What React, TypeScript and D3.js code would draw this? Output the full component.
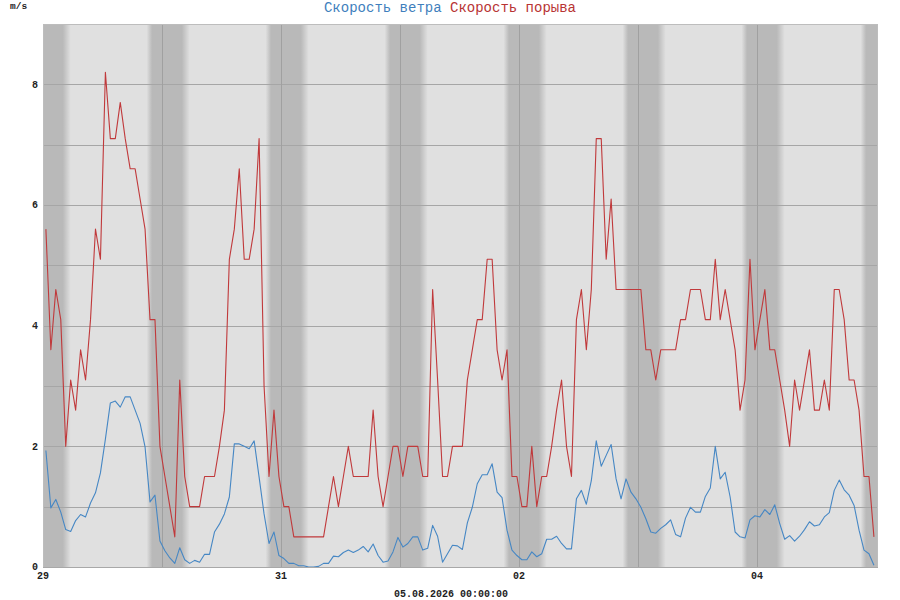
import React from "react";
import * as d3 from "d3";

// Hourly wind speed (m/s), starting 29.07 00:35
const windSpeed: number[] = [
  1.93, 0.98, 1.12, 0.91, 0.62, 0.59, 0.77, 0.87, 0.83, 1.06, 1.23, 1.56, 2.12, 2.72, 2.75, 2.65,
  2.82, 2.82, 2.6, 2.38, 1.99, 1.08, 1.19, 0.43, 0.27, 0.15, 0.06, 0.32, 0.12, 0.06, 0.11, 0.08,
  0.21, 0.21, 0.58, 0.71, 0.88, 1.16, 2.04, 2.04, 2.0, 1.96, 2.09, 1.49, 0.88, 0.39, 0.58, 0.19,
  0.14, 0.06, 0.06, 0.02, 0.02, 0.0, 0.0, 0.01, 0.06, 0.06, 0.18, 0.17, 0.24, 0.28, 0.24, 0.28,
  0.34, 0.25, 0.38, 0.19, 0.08, 0.1, 0.25, 0.49, 0.33, 0.39, 0.5, 0.5, 0.28, 0.31, 0.69, 0.51,
  0.08, 0.22, 0.36, 0.35, 0.29, 0.73, 0.99, 1.38, 1.53, 1.53, 1.71, 1.24, 1.15, 0.61, 0.28, 0.19,
  0.12, 0.12, 0.25, 0.17, 0.22, 0.46, 0.46, 0.51, 0.39, 0.3, 0.3, 1.13, 1.27, 1.04, 1.43, 2.09,
  1.67, 1.85, 2.03, 1.46, 1.13, 1.46, 1.24, 1.13, 0.99, 0.8, 0.58, 0.56, 0.64, 0.7, 0.78, 0.54,
  0.5, 0.81, 0.99, 0.91, 0.91, 1.17, 1.31, 2.0, 1.46, 1.57, 1.16, 0.58, 0.5, 0.48, 0.78, 0.85,
  0.83, 0.95, 0.87, 1.03, 0.72, 0.46, 0.52, 0.43, 0.51, 0.62, 0.75, 0.68, 0.7, 0.83, 0.9, 1.27,
  1.44, 1.28, 1.19, 1.02, 0.61, 0.28, 0.22, 0.03,
];

// Hourly gust speed (m/s)
const gustSpeed: number[] = [
  5.6, 3.6, 4.6, 4.1, 2.0, 3.1, 2.6, 3.6, 3.1, 4.1, 5.6, 5.1, 8.2, 7.1, 7.1, 7.7,
  7.1, 6.6, 6.6, 6.1, 5.6, 4.1, 4.1, 2.0, 1.5, 1.0, 0.5, 3.1, 1.5, 1.0, 1.0, 1.0,
  1.5, 1.5, 1.5, 2.0, 2.6, 5.1, 5.6, 6.6, 5.1, 5.1, 5.6, 7.1, 3.0, 1.5, 2.6, 1.5,
  1.0, 1.0, 0.5, 0.5, 0.5, 0.5, 0.5, 0.5, 0.5, 1.0, 1.5, 1.0, 1.5, 2.0, 1.5, 1.5,
  1.5, 1.5, 2.6, 1.5, 1.0, 1.5, 2.0, 2.0, 1.5, 2.0, 2.0, 2.0, 1.5, 1.5, 4.6, 3.1,
  1.5, 1.5, 2.0, 2.0, 2.0, 3.1, 3.6, 4.1, 4.1, 5.1, 5.1, 3.6, 3.1, 3.6, 1.5, 1.5,
  1.0, 1.0, 2.0, 1.0, 1.5, 1.5, 2.0, 2.6, 3.1, 2.0, 1.5, 4.1, 4.6, 3.6, 4.6, 7.1,
  7.1, 5.1, 6.1, 4.6, 4.6, 4.6, 4.6, 4.6, 4.6, 3.6, 3.6, 3.1, 3.6, 3.6, 3.6, 3.6,
  4.1, 4.1, 4.6, 4.6, 4.6, 4.1, 4.1, 5.1, 4.1, 4.6, 4.1, 3.6, 2.6, 3.1, 5.1, 3.6,
  4.1, 4.6, 3.6, 3.6, 3.1, 2.6, 2.0, 3.1, 2.6, 3.1, 3.6, 2.6, 2.6, 3.1, 2.6, 4.6,
  4.6, 4.1, 3.1, 3.1, 2.6, 1.5, 1.5, 0.5,
];

const yTicks: number[] = [0, 2, 4, 6, 8];
const yGrid: number[] = [1, 2, 3, 4, 5, 6, 7, 8];
const seriesNames: string[] = ["Скорость ветра", "Скорость порыва"];
const unitLabel = "m/s";
const dateLabel = "05.08.2026 00:00:00";

// night: hours relative to midnight
const duskStart = -3.1;
const nightStart = -2.0;
const nightEnd = 4.0;
const dawnEnd = 5.6;

const START = Date.UTC(2026, 6, 29, 0, 0);
const END = Date.UTC(2026, 7, 5, 0, 0);
const FIRST = Date.UTC(2026, 6, 29, 0, 35);
const HOUR = 3600 * 1000;

const W = 900;
const H = 600;
const L = 43;
const R = 876;
const T = 24;
const B = 567;

const BLUE = "#4687c4";
const RED = "#c0393b";
const FONT = "'Liberation Mono', 'DejaVu Sans Mono', monospace";

export default function App() {
  const x = d3.scaleUtc().domain([START, END]).range([L, R]);
  const y = d3.scaleLinear().domain([0, 9]).range([B, T]);

  const times = windSpeed.map((_, i) => FIRST + i * HOUR);
  const line = d3
    .line<number>()
    .x((_, i) => x(times[i]))
    .y((d) => y(d));

  const days = d3.utcDay.range(START, END + 1);
  const midnights = d3.utcDay.range(START, END + 2 * HOUR * 24);
  const labelDays = days.filter((_, i) => i % 2 === 0 && i < days.length - 1);
  const fmt = d3.utcFormat("%d");

  const span = dawnEnd - duskStart;
  const o1 = (nightStart - duskStart) / span;
  const o2 = (nightEnd - duskStart) / span;

  return (
    <svg
      width={W}
      height={H}
      style={{ position: "absolute", left: 0, top: 0, background: "#fff" }}
    >
      <defs>
        <linearGradient id="night" x1="0" x2="1" y1="0" y2="0">
          <stop offset="0" stopColor="#b9b9b9" stopOpacity={0} />
          <stop offset={o1} stopColor="#b9b9b9" stopOpacity={1} />
          <stop offset={o2} stopColor="#b9b9b9" stopOpacity={1} />
          <stop offset="1" stopColor="#b9b9b9" stopOpacity={0} />
        </linearGradient>
        <clipPath id="plot">
          <rect x={L} y={T} width={R - L + 2} height={B - T} />
        </clipPath>
      </defs>

      <text
        x={W / 2}
        y={12}
        textAnchor="middle"
        fontFamily={FONT}
        fontSize={14}
      >
        <tspan fill="#3f7fbd">{seriesNames[0]}</tspan>
        <tspan fill="#b83434"> {seriesNames[1]}</tspan>
      </text>

      <rect x={L} y={T} width={R - L + 2} height={B - T} fill="#e0e0e0" />

      <g clipPath="url(#plot)">
        {midnights.map((d, i) => {
          const x0 = x(d.getTime() + duskStart * HOUR);
          const x1 = x(d.getTime() + dawnEnd * HOUR);
          return (
            <rect
              key={i}
              x={x0}
              y={T}
              width={x1 - x0}
              height={B - T}
              fill="url(#night)"
            />
          );
        })}
      </g>

      {yGrid.map((v) => (
        <line
          key={v}
          x1={L}
          x2={R + 2}
          y1={Math.round(y(v)) + 0.5}
          y2={Math.round(y(v)) + 0.5}
          stroke="#a6a6a6"
          strokeWidth={1}
        />
      ))}
      {days.slice(1, days.length - 1).map((d, i) => (
        <line
          key={i}
          x1={Math.round(x(d)) + 0.5}
          x2={Math.round(x(d)) + 0.5}
          y1={T}
          y2={B}
          stroke="#a0a0a0"
          strokeWidth={1}
        />
      ))}

      <rect
        x={L + 0.5}
        y={T + 0.5}
        width={R - L + 1}
        height={B - T}
        fill="none"
        stroke="#bdbdbd"
        strokeWidth={1}
      />
      <line x1={L} x2={R + 2} y1={B + 0.5} y2={B + 0.5} stroke="#a8a8a8" />

      <g clipPath="url(#plot)">
        <path
          d={line(gustSpeed) || ""}
          fill="none"
          stroke={RED}
          strokeWidth={1.1}
          strokeLinejoin="round"
        />
        <path
          d={line(windSpeed) || ""}
          fill="none"
          stroke={BLUE}
          strokeWidth={1.1}
          strokeLinejoin="round"
        />
      </g>

      <text
        x={10}
        y={9}
        fontFamily={FONT}
        fontSize={9.5}
        fontWeight="bold"
        fill="#222"
      >
        {unitLabel}
      </text>

      {yTicks.map((v) => (
        <text
          key={v}
          x={38}
          y={y(v)}
          dy="0.33em"
          textAnchor="end"
          fontFamily={FONT}
          fontSize={10}
          fontWeight="bold"
          fill="#222"
        >
          {v}
        </text>
      ))}

      {labelDays.map((d, i) => (
        <text
          key={i}
          x={x(d)}
          y={579}
          textAnchor="middle"
          fontFamily={FONT}
          fontSize={10}
          fontWeight="bold"
          fill="#222"
        >
          {fmt(d)}
        </text>
      ))}

      <text
        x={451}
        y={597}
        textAnchor="middle"
        fontFamily={FONT}
        fontSize={10}
        fontWeight="bold"
        fill="#222"
      >
        {dateLabel}
      </text>
    </svg>
  );
}
